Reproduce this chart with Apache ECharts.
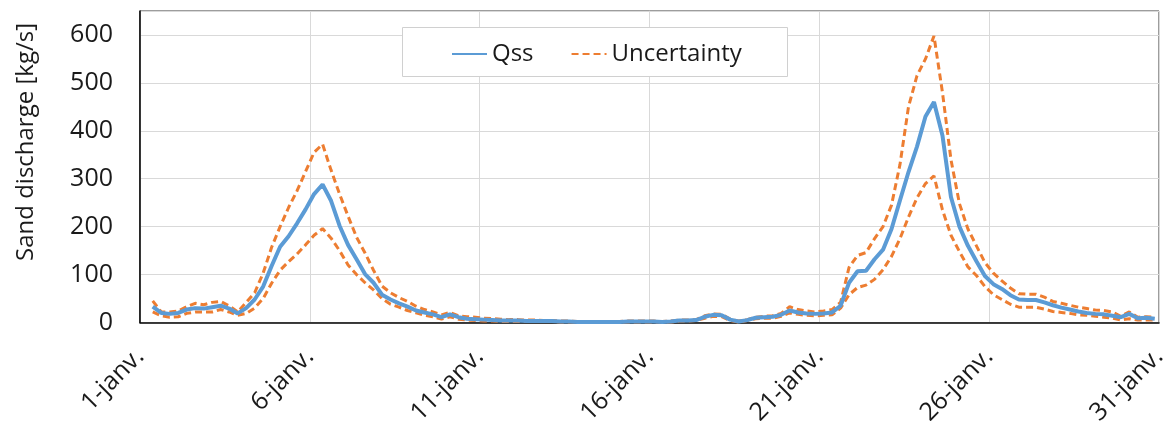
<!DOCTYPE html>
<html>
<head>
<meta charset="utf-8">
<script src="https://cdn.jsdelivr.net/npm/echarts@6/dist/echarts.min.js"></script>
<style>
  html, body { margin: 0; padding: 0; background: #ffffff; }
  #chart { width: 1164px; height: 421px; }
</style>
</head>
<body>
<div id="chart"></div>
<script>
// Time base: samples every 6 hours, counted in days from 1 January 00:00
const startDay = 0.375;
const stepDay = 0.25;

// Sand discharge Qss [kg/s]
const qss = [
  33, 20, 18, 20, 27, 30, 29, 32, 35, 29,
  19, 30, 48, 75, 118, 158, 180, 207, 236, 268,
  288, 254, 202, 162, 132, 101, 83, 58, 48, 40,
  33, 25, 21, 17, 11, 17, 11, 8, 7, 6,
  5, 4, 4, 4, 3, 3, 3, 3, 2, 2,
  1, 1, 1, 1, 1, 1, 2, 2, 2, 2,
  1, 2, 4, 4, 5, 12, 16, 15, 6, 2,
  5, 10, 11, 12, 16, 25, 21, 19, 18, 19,
  21, 35, 83, 107, 108, 132, 152, 195, 255, 314,
  367, 430, 460, 390, 262, 200, 160, 128, 97, 80,
  70, 57, 48, 47, 47, 42, 36, 31, 27, 23,
  20, 18, 17, 14, 11, 18, 9, 10, 8
];

// Upper uncertainty bound [kg/s]
const upperBound = [
  45, 22, 22, 24, 33, 40, 37, 42, 44, 35,
  22, 42, 62, 103, 157, 200, 240, 275, 315, 355,
  372, 318, 268, 222, 178, 145, 109, 76, 62, 52,
  44, 34, 27, 22, 16, 21, 14, 12, 11, 9,
  8, 7, 6, 6, 5, 5, 4, 4, 3, 3,
  2, 2, 2, 2, 2, 2, 3, 3, 3, 3,
  2, 3, 5, 5, 6, 14, 18, 17, 7, 3,
  6, 11, 13, 14, 19, 33, 27, 24, 22, 24,
  27, 42, 115, 140, 146, 175, 200, 245, 330, 450,
  515, 550, 598, 480, 340, 248, 195, 160, 125, 103,
  87, 72, 60, 59, 59, 53, 44, 40, 36, 32,
  29, 26, 25, 22, 13, 22, 11, 12, 11
];

// Lower uncertainty bound [kg/s]
const lowerBound = [
  22, 14, 11, 12, 19, 22, 22, 22, 27, 22,
  15, 19, 30, 50, 82, 109, 127, 143, 162, 182,
  196, 176, 150, 120, 100, 83, 68, 50, 38, 32,
  25, 20, 15, 12, 7, 12, 7, 5, 4, 3,
  3, 2, 2, 2, 2, 2, 2, 2, 1, 1,
  1, 1, 1, 0, 1, 1, 1, 1, 1, 1,
  1, 1, 3, 3, 4, 9, 13, 12, 4, 1,
  4, 8, 9, 9, 13, 20, 17, 15, 14, 15,
  16, 30, 58, 73, 78, 90, 110, 138, 175, 220,
  260, 290, 306, 235, 182, 148, 116, 98, 75, 58,
  48, 38, 32, 32, 32, 28, 23, 21, 19, 16,
  15, 13, 11, 9, 5, 8, 5, 5, 5
];

// Axis settings
const dayTickStep = 5;
const monthLabel = 'janv.';
const yTitle = 'Sand discharge [kg/s]';

function toPairs(values) {
  return values.map((v, i) => [startDay + i * stepDay, v]);
}

const FONT = '"Open Sans", "Noto Sans", sans-serif';
const TEXT_COLOR = '#1a1a1a';
const BLUE = '#5B9BD5';
const ORANGE = '#ED7D31';

const chart = echarts.init(document.getElementById('chart'), null, { renderer: 'canvas' });

const option = {
  animation: false,
  backgroundColor: '#ffffff',
  textStyle: { fontFamily: FONT },
  grid: {
    left: 140, right: 5, top: 11, bottom: 98.5,
    show: true, borderColor: '#3a3a3a', borderWidth: 1,
    containLabel: false,
    outerBoundsMode: 'none'
  },
  legend: {
    z: 10,
    left: 446, top: 37,
    itemWidth: 35, itemHeight: 14, itemGap: 37,
    itemStyle: { opacity: 0 },
    textStyle: { fontFamily: FONT, fontSize: 24, color: TEXT_COLOR },
    data: ['Qss', 'Uncertainty']
  },
  graphic: [
    {
      type: 'rect', z: 1,
      shape: { x: 402.5, y: 27.5, width: 385, height: 49 },
      style: { fill: '#ffffff', stroke: '#d0d0d0', lineWidth: 1 }
    },
    {
      type: 'text', z: 10,
      x: 26, y: 142, rotation: Math.PI / 2,
      style: {
        text: yTitle, fontFamily: FONT, fontSize: 24, fill: TEXT_COLOR,
        align: 'center', verticalAlign: 'middle'
      }
    }
  ],
  xAxis: {
    type: 'value', min: 0, max: 30, interval: dayTickStep,
    axisLine: { show: true, lineStyle: { color: '#000000', width: 1.5 } },
    axisTick: { show: false },
    splitLine: { show: true, lineStyle: { color: '#d9d9d9', width: 1 } },
    axisLabel: {
      rotate: 45, margin: 30,
      fontFamily: FONT, fontSize: 25, color: TEXT_COLOR,
      formatter: v => (Math.round(v) + 1) + '-' + monthLabel
    }
  },
  yAxis: {
    type: 'value', min: 0, max: 650, interval: 100,
    axisLine: { show: true, lineStyle: { color: '#000000', width: 1.5 } },
    axisTick: { show: false },
    splitLine: { show: true, lineStyle: { color: '#d9d9d9', width: 1 } },
    axisLabel: {
      margin: 27, showMaxLabel: false,
      fontFamily: FONT, fontSize: 25, color: TEXT_COLOR,
      formatter: v => (v > 600 ? '' : String(v))
    }
  },
  series: [
    {
      name: 'Uncertainty', type: 'line', data: toPairs(upperBound),
      showSymbol: false, symbol: 'none', z: 3,
      lineStyle: { color: ORANGE, width: 3, type: [7, 4] },
      itemStyle: { color: ORANGE }
    },
    {
      name: 'Uncertainty', type: 'line', data: toPairs(lowerBound),
      showSymbol: false, symbol: 'none', z: 3,
      lineStyle: { color: ORANGE, width: 3, type: [7, 4] },
      itemStyle: { color: ORANGE }
    },
    {
      name: 'Qss', type: 'line', data: toPairs(qss),
      showSymbol: false, symbol: 'none', z: 4,
      lineStyle: { color: BLUE, width: 4 },
      itemStyle: { color: BLUE }
    }
  ]
};

chart.setOption(option);
</script>
</body>
</html>
